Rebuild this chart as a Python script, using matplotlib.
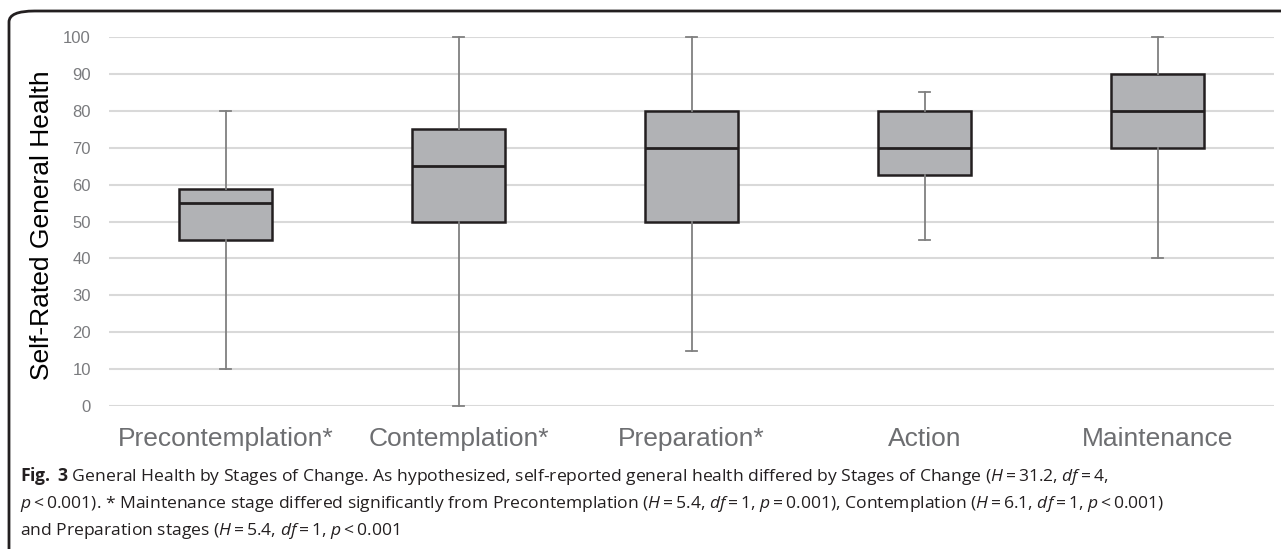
import matplotlib
matplotlib.use("Agg")
import matplotlib.pyplot as plt
from matplotlib.patches import FancyBboxPatch

stages = ["Precontemplation*", "Contemplation*", "Preparation*", "Action", "Maintenance"]
whisker_lo = [10, 0, 15, 45, 40]
q1 = [45, 50, 50, 62.5, 70]
median = [55, 65, 70, 70, 80]
q3 = [58.75, 75, 80, 80, 90]
whisker_hi = [80, 100, 100, 85, 100]
yticks = list(range(0, 101, 10))

EQ = "\u2009=\u2009"
LT = "\u2009<\u2009"
H_ = r"$\mathit{H}$"
DF = r"$\mathit{df}$"
P_ = r"$\mathit{p}$"
caption = [
    r"$\mathbf{Fig.}$ $\mathbf{3}$ General Health by Stages of Change. As hypothesized, self-reported general health differed by Stages of Change ("
    + H_ + EQ + "31.2, " + DF + EQ + "4,",
    P_ + LT + "0.001). * Maintenance stage differed significantly from Precontemplation ("
    + H_ + EQ + "5.4, " + DF + EQ + "1, " + P_ + EQ + "0.001), Contemplation ("
    + H_ + EQ + "6.1, " + DF + EQ + "1, " + P_ + LT + "0.001)",
    "and Preparation stages (" + H_ + EQ + "5.4, " + DF + EQ + "1, " + P_ + LT + "0.001",
]

plt.rcParams["font.family"] = ["Liberation Sans", "DejaVu Sans"]
plt.rcParams["mathtext.fontset"] = "custom"
plt.rcParams["mathtext.rm"] = "Open Sans"
plt.rcParams["mathtext.it"] = "Open Sans:italic"
plt.rcParams["mathtext.bf"] = "Open Sans:bold"

W, H = 1281, 549
fig = plt.figure(figsize=(W / 100, H / 100), dpi=100)

# rounded frame around the figure panel
frame = FancyBboxPatch((9 / W, -0.1), 1.2, 1.1 - 11 / H,
                       boxstyle="round,pad=0,rounding_size=0.02",
                       transform=fig.transFigure, fill=False,
                       edgecolor="#231f20", linewidth=2)
fig.patches.append(frame)

ax = fig.add_axes([109 / W, 1 - 406 / H, (1274 - 109) / W, (406 - 37) / H])

stats = []
for i, name in enumerate(stages):
    stats.append({"label": name, "whislo": whisker_lo[i], "q1": q1[i], "med": median[i],
                  "q3": q3[i], "whishi": whisker_hi[i], "fliers": []})

ax.bxp(stats, positions=range(len(stages)), widths=0.4, patch_artist=True,
       showfliers=False,
       boxprops=dict(facecolor="#b1b2b5", edgecolor="#231f20", linewidth=1.8),
       medianprops=dict(color="#231f20", linewidth=2),
       whiskerprops=dict(color="#808080", linewidth=1.3),
       capprops=dict(color="#808080", linewidth=1.3),
       capwidths=0.05, zorder=3)
for art in ax.get_children():
    try:
        art.set_clip_on(False)
    except Exception:
        pass

ax.set_xlim(-0.5, len(stages) - 0.5)
ax.set_ylim(0, 100)
ax.set_yticks(yticks)
ax.yaxis.grid(True, color="#d9d9d9", linewidth=1.5, zorder=0)
ax.set_axisbelow(True)
for s in ax.spines.values():
    s.set_visible(False)
ax.tick_params(axis="both", length=0)
ax.tick_params(axis="y", labelsize=12, labelcolor="#7a7b7e", pad=13)
ax.tick_params(axis="x", labelsize=19, labelcolor="#6d6e71", pad=15)
ax.set_xticks(range(len(stages)))
ax.set_xticklabels(stages)

fig.text(42 / W, 1 - 225 / H, "Self-Rated General Health", rotation=90,
         ha="center", va="center", fontsize=19, color="#000000")

for k, line in enumerate(caption):
    fig.text(20 / W, 1 - (476 + 27.5 * k) / H, line, ha="left", va="center",
             fontsize=12.6, color="#231f20", family=["Open Sans", "DejaVu Sans"])

fig.savefig("out.png", dpi=100)
